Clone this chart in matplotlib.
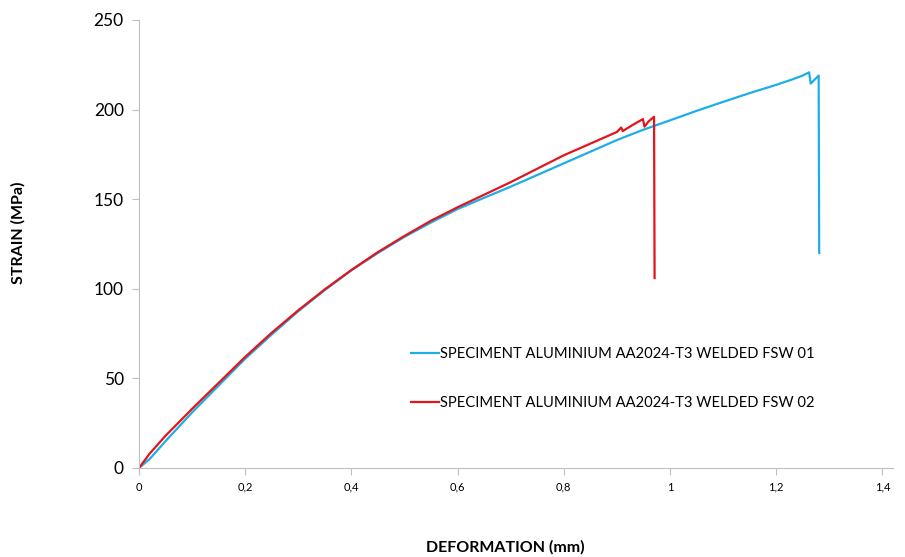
import numpy as np
import matplotlib
matplotlib.use("Agg")
import matplotlib.pyplot as plt

# values
fsw01_x = [0, 0.02, 0.05, 0.1, 0.15, 0.2, 0.25, 0.3, 0.35, 0.4, 0.45, 0.5, 0.55, 0.6,
           0.65, 0.7, 0.75, 0.8, 0.85, 0.9, 0.95, 1.0, 1.05, 1.1, 1.15, 1.2, 1.23,
           1.25, 1.262, 1.265, 1.27, 1.28, 1.281]
fsw01_y = [0, 5, 15, 31, 46, 61, 74.5, 87.5, 99.3, 110.3, 120, 129, 137, 144.5,
           150.8, 157, 163.5, 170, 176.5, 183, 188.8, 194, 199.3, 204.3, 209.2, 213.8,
           216.8, 219, 220.8, 214.5, 216, 219, 120]

fsw02_x = [0, 0.02, 0.05, 0.1, 0.15, 0.2, 0.25, 0.3, 0.35, 0.4, 0.45, 0.5, 0.55, 0.6,
           0.65, 0.7, 0.75, 0.8, 0.85, 0.9, 0.908, 0.911, 0.93, 0.949, 0.952, 0.96,
           0.97, 0.971]
fsw02_y = [0, 8, 18, 33, 47.5, 62, 75.5, 88, 99.7, 110.5, 120.5, 129.5, 138, 145.5,
           152.5, 159.5, 167, 174.5, 181, 187.5, 190, 188, 191.5, 194.7, 190.5, 193.5,
           196, 106]

labels = ["SPECIMENT ALUMINIUM AA2024-T3 WELDED FSW 01",
          "SPECIMENT ALUMINIUM AA2024-T3 WELDED FSW 02"]
xticks = [0, 0.2, 0.4, 0.6, 0.8, 1, 1.2, 1.4]
xtick_labels = ["0", "0,2", "0,4", "0,6", "0,8", "1", "1,2", "1,4"]
yticks = [0, 50, 100, 150, 200, 250]

plt.rcParams['font.family'] = ['Lato', 'DejaVu Sans']

fig = plt.figure(figsize=(9.05, 5.57), dpi=100)
ax = fig.add_axes([139/905, 1-468/557, (893-139)/905, (468-20)/557])

ax.plot(fsw01_x, fsw01_y, color='#1DAEE8', lw=1.6, label=labels[0])
ax.plot(fsw02_x, fsw02_y, color='#E3151B', lw=1.6, label=labels[1])

ax.set_xlim(0, 1.42)
ax.set_ylim(0, 250)
ax.set_xticks(xticks)
ax.set_xticklabels(xtick_labels, fontsize=8)
ax.set_yticks(yticks)
ax.tick_params(axis='y', labelsize=12.5, length=5, color='#bfbfbf', pad=6)
ax.tick_params(axis='x', length=5, color='#bfbfbf', pad=5)

for s in ['top', 'right']:
    ax.spines[s].set_visible(False)
for s in ['left', 'bottom']:
    ax.spines[s].set_color('#bfbfbf')

fig.text(505/905, 1-547/557, "DEFORMATION (mm)", ha='center', va='center',
         fontsize=11.5, fontweight='bold')
fig.text(18/905, 1-233/557, "STRAIN (MPa)", ha='center', va='center',
         rotation=90, fontsize=11.5, fontweight='bold')

ax.legend(loc='upper left', bbox_to_anchor=(405/905, 1-341/557),
          bbox_transform=fig.transFigure, frameon=False, fontsize=10.6,
          handlelength=1.9, handletextpad=0.1, labelspacing=2.4, borderaxespad=0)

fig.savefig("out.png", dpi=100)
